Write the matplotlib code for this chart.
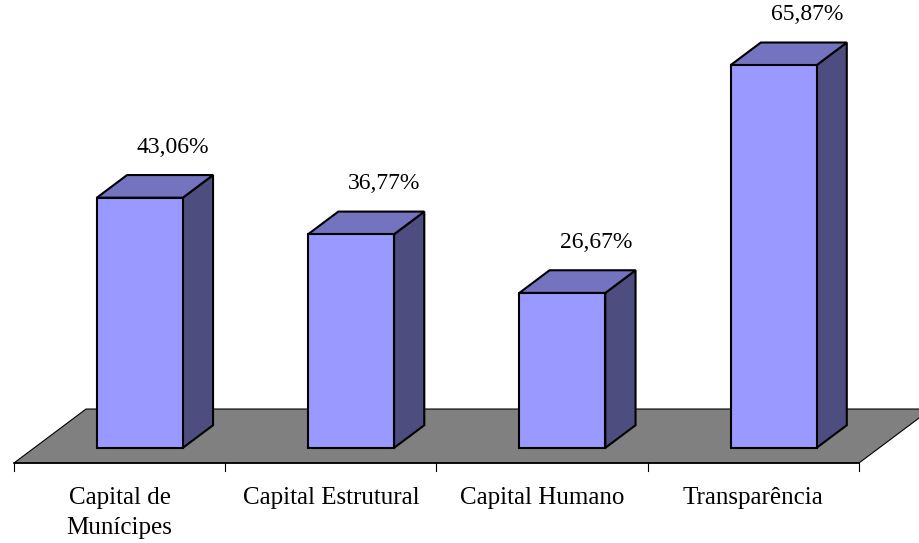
import matplotlib.pyplot as plt
from matplotlib.patches import Polygon

categories = ['Capital de\nMunícipes', 'Capital Estrutural', 'Capital Humano', 'Transparência']
values = [43.06, 36.77, 26.67, 65.87]
labels = ['43,06%', '36,77%', '26,67%', '65,87%']

# 3D look (data units: x = category, y = percent)
depth_dx, depth_dy = 0.341, 9.29      # floor depth shift
d_front, d_back = 0.28, 0.70          # bar position inside the floor depth
bar_w = 0.407

front_col = '#9999FF'
top_col = '#7373BF'
side_col = '#4D4D80'

plt.rcParams['font.family'] = ['Liberation Serif', 'DejaVu Serif']

fig = plt.figure(figsize=(9.2, 5.43), dpi=100)
ax = fig.add_axes([0, 0, 1, 1])
ax.set_xlim(-14 / 211.25, (920 - 14) / 211.25)
ax.set_ylim((463 - 543) / 5.81, 463 / 5.81)
ax.axis('off')

n = len(categories)

# floor
floor = Polygon([(0, 0), (n, 0), (n + depth_dx, depth_dy), (depth_dx, depth_dy)],
                closed=True, facecolor='#808080', edgecolor='black', lw=0.8, zorder=1)
ax.add_patch(floor)
ax.plot([0, n], [0, 0], color='black', lw=1.2, zorder=2)
for i in range(n + 1):
    ax.plot([i, i], [0, -1.4], color='black', lw=0.8, zorder=2)

ddx = (d_back - d_front) * depth_dx
ddy = (d_back - d_front) * depth_dy

for i, v in enumerate(values):
    x0 = i + 0.5 - bar_w / 2 + d_front * depth_dx
    y0 = d_front * depth_dy
    x1 = x0 + bar_w
    y1 = y0 + v
    front = Polygon([(x0, y0), (x1, y0), (x1, y1), (x0, y1)],
                    facecolor=front_col, edgecolor='black', lw=1.5, zorder=3, joinstyle='miter')
    side = Polygon([(x1, y0), (x1 + ddx, y0 + ddy), (x1 + ddx, y1 + ddy), (x1, y1)],
                   facecolor=side_col, edgecolor='black', lw=1.5, zorder=3, joinstyle='miter')
    top = Polygon([(x0, y1), (x1, y1), (x1 + ddx, y1 + ddy), (x0 + ddx, y1 + ddy)],
                  facecolor=top_col, edgecolor='black', lw=1.5, zorder=3, joinstyle='miter')
    for p in (side, top, front):
        ax.add_patch(p)
    ax.text(i + 0.5 + d_back * depth_dx + 0.015, v + d_back * depth_dy + 4.8, labels[i],
            ha='center', va='center', fontsize=17, zorder=4)

for i, c in enumerate(categories):
    ax.text(i + 0.5, -4.2, c, ha='center', va='top', fontsize=18, linespacing=1.45)

fig.savefig('out.png', dpi=100)
